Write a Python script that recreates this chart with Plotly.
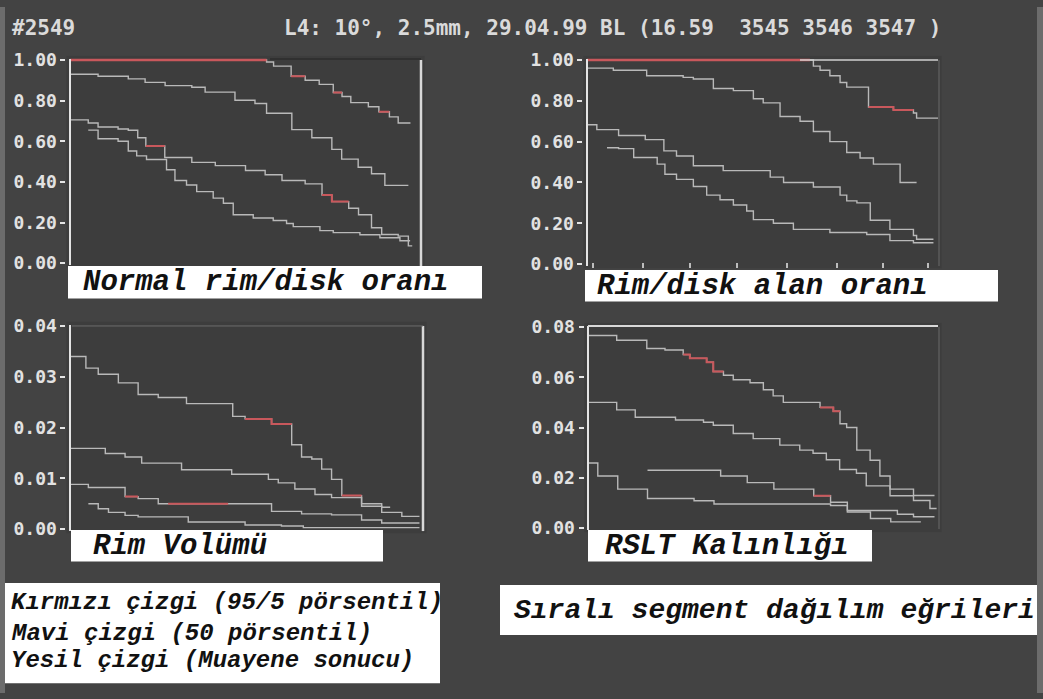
import plotly.graph_objects as go

W, H = 1043, 699

# ---------------- data ----------------
header_left = "#2549"
header_right = "L4: 10°, 2.5mm, 29.04.99 BL (16.59  3545 3546 3547 )"

panel_titles = ["Normal rim/disk oranı", "Rim/disk alan oranı", "Rim Volümü", "RSLT Kalınlığı"]
legend_lines = ["Kırmızı çizgi (95/5 pörsentil)", "Mavi çizgi (50 pörsentil)", "Yesil çizgi (Muayene sonucu)"]
footer_title = "Sıralı segment dağılım eğrileri"

# tick values / labels
p1_tickvals = [1.0, 0.8, 0.6, 0.4, 0.2, 0.0]
p1_ticktext = ["1.00", "0.80", "0.60", "0.40", "0.20", "0.00"]
p2_tickvals = [1.0, 0.8, 0.6, 0.4, 0.2, 0.0]
p2_ticktext = ["1.00", "0.80", "0.60", "0.40", "0.20", "0.00"]
p3_tickvals = [0.04, 0.03, 0.02, 0.01, 0.0]
p3_ticktext = ["0.04", "0.03", "0.02", "0.01", "0.00"]
p4_tickvals = [0.08, 0.06, 0.04, 0.02, 0.0]
p4_ticktext = ["0.08", "0.06", "0.04", "0.02", "0.00"]
p2_xtickvals = [1.7, 16, 29.3, 42.7, 57, 71.2, 84.3, 97.1]

# Panel 1 : Normal rim/disk oranı (segment rank 0..100)
p1_a_x = [0, 56, 58, 63, 67, 71, 75, 77.5, 80, 85, 88, 91, 93.5, 97]
p1_a_y = [1.00, 0.99, 0.97, 0.92, 0.90, 0.88, 0.84, 0.82, 0.79, 0.77, 0.745, 0.72, 0.69, 0.69]
p1_b_x = [0, 8, 16.6, 21.4, 27.1, 34.7, 38.5, 47, 52.7, 56, 63.2, 68.9, 74.6, 77.4, 82.1, 85.9, 89.7, 96.4]
p1_b_y = [0.93, 0.92, 0.907, 0.89, 0.874, 0.866, 0.842, 0.802, 0.786, 0.738, 0.657, 0.617, 0.560, 0.512, 0.472, 0.440, 0.383, 0.383]
p1_c_x = [0, 5.2, 8, 13.7, 16.6, 19.3, 21.6, 27, 34.7, 41.4, 50, 55.6, 60.4, 67, 71.8, 74.6, 79.4, 82.2, 85.9, 88.8, 93.5, 96.4, 97.5]
p1_c_y = [0.705, 0.69, 0.67, 0.66, 0.654, 0.617, 0.577, 0.52, 0.496, 0.48, 0.456, 0.435, 0.407, 0.39, 0.335, 0.303, 0.27, 0.238, 0.174, 0.141, 0.133, 0.085, 0.085]
p1_d_x = [5.2, 8, 13.7, 16.6, 19, 21.8, 27.5, 29.9, 33.2, 36.1, 40.8, 43.7, 46.5, 52.2, 57.9, 61.7, 63.6, 71.2, 75, 82.6, 88.3, 94, 96.9]
p1_d_y = [0.655, 0.612, 0.60, 0.552, 0.528, 0.51, 0.46, 0.407, 0.385, 0.352, 0.32, 0.295, 0.238, 0.222, 0.21, 0.195, 0.18, 0.16, 0.15, 0.14, 0.125, 0.11, 0.11]
p1_red_a = [(0, 56), (63, 67), (75, 77.5), (88, 91)]
p1_red_c = [(21.6, 27), (71.8, 79.4)]

# Panel 2 : Rim/disk alan oranı
p2_a_x = [0, 63.5, 64.5, 66.4, 69.2, 72.1, 74, 80.2, 87.3, 93, 93.9, 100]
p2_a_y = [1.0, 1.0, 0.97, 0.95, 0.923, 0.89, 0.867, 0.77, 0.755, 0.74, 0.715, 0.715]
p2_b_x = [0, 7.5, 17, 27.4, 30.3, 36, 41.7, 47.4, 50.2, 55, 60.7, 64.5, 69.2, 74, 77.8, 81.6, 89.2, 93.9]
p2_b_y = [0.96, 0.95, 0.923, 0.915, 0.907, 0.86, 0.85, 0.81, 0.79, 0.723, 0.70, 0.65, 0.60, 0.547, 0.52, 0.49, 0.40, 0.40]
p2_c_x = [0, 2.8, 9, 16.6, 21.9, 25.5, 30.3, 38.8, 52.2, 56, 64.5, 72.1, 74, 76.9, 80.7, 86.3, 93, 93.9, 98.7]
p2_c_y = [0.683, 0.659, 0.63, 0.61, 0.555, 0.53, 0.482, 0.458, 0.426, 0.40, 0.378, 0.338, 0.31, 0.30, 0.215, 0.17, 0.14, 0.122, 0.122]
p2_d_x = [5.7, 9, 13.3, 20, 22.2, 25.5, 30.3, 34.1, 37.9, 41.7, 45.5, 47.4, 53.1, 58.8, 69.2, 79.7, 86.3, 93, 98.7]
p2_d_y = [0.57, 0.566, 0.522, 0.49, 0.44, 0.415, 0.38, 0.338, 0.315, 0.29, 0.26, 0.218, 0.20, 0.17, 0.155, 0.145, 0.115, 0.105, 0.105]
p2_red_a = [(0, 63.5), (80.2, 93)]
p2_red_c = []

# Panel 3 : Rim Volümü
p3_a_x = [0, 4.5, 8, 13.7, 19.3, 25, 33, 46.1, 49.6, 57.1, 62.8, 65.6, 68.5, 71.3, 74.1, 77, 82.6, 88.3, 90.7]
p3_a_y = [0.034, 0.0317, 0.0305, 0.0288, 0.0265, 0.0259, 0.0247, 0.0222, 0.0217, 0.0207, 0.0166, 0.0142, 0.0138, 0.0118, 0.0098, 0.0066, 0.005, 0.0043, 0.0043]
p3_b_x = [0, 10, 15.6, 20.3, 31.6, 45.8, 56.2, 59, 63.7, 69.4, 74.1, 82.6, 88.3, 94, 99]
p3_b_y = [0.0159, 0.0149, 0.0142, 0.013, 0.0117, 0.0108, 0.0098, 0.0091, 0.0079, 0.0068, 0.0062, 0.0045, 0.0033, 0.0025, 0.0025]
p3_c_x = [0, 5.2, 15.6, 19.3, 25, 57.1, 65.6, 74.1, 82.6, 88.3, 99]
p3_c_y = [0.0088, 0.0082, 0.0064, 0.006, 0.005, 0.0035, 0.003, 0.0028, 0.0018, 0.0012, 0.0012]
p3_d_x = [5.2, 8, 10.9, 15.6, 19.3, 33.5, 49.6, 59.9, 66.1, 99]
p3_d_y = [0.005, 0.004, 0.0033, 0.0027, 0.0024, 0.0014, 0.0008, 0.0006, 0.0003, 0.0003]
p3_red_a = [(49.6, 62.8), (77, 82.6)]
p3_red_c = [(15.6, 19.3), (27.8, 44.8)]

# Panel 4 : RSLT Kalınlığı
p4_a_x = [0, 8.2, 16.8, 22, 27.2, 29.1, 33.9, 35.8, 38.7, 41.5, 46.3, 50.1, 52.9, 55.8, 66.3, 70.1, 72, 73.9, 76.8, 80.6, 83.4, 86.3, 93, 97.7, 99.6]
p4_a_y = [0.0766, 0.0747, 0.0714, 0.0708, 0.069, 0.0675, 0.066, 0.0623, 0.0608, 0.059, 0.0578, 0.055, 0.0526, 0.05, 0.048, 0.0465, 0.0415, 0.040, 0.031, 0.027, 0.0207, 0.0129, 0.011, 0.0078, 0.0078]
p4_b_x = [0, 8.2, 13.5, 25, 33, 35.8, 41.5, 47.2, 54.8, 60.5, 64.3, 68.1, 71.9, 76.7, 79.5, 86.3, 93, 99]
p4_b_y = [0.05, 0.047, 0.0441, 0.043, 0.0421, 0.0409, 0.0376, 0.0356, 0.033, 0.031, 0.0298, 0.0272, 0.0233, 0.0218, 0.0168, 0.0155, 0.013, 0.013]
p4_c_x = [0, 2.8, 8.5, 17, 30.3, 36, 69.3, 74.1, 80.7, 86.5, 95.1]
p4_c_y = [0.0259, 0.0207, 0.0155, 0.0118, 0.0109, 0.0096, 0.009, 0.0064, 0.0038, 0.0025, 0.0025]
p4_d_x = [17, 37.9, 45.5, 53.1, 64.5, 69.3, 74.1, 88.4, 93, 99]
p4_d_y = [0.023, 0.0207, 0.0181, 0.0155, 0.0129, 0.0103, 0.007, 0.0055, 0.0045, 0.0045]
p4_red_a = [(27.2, 38.7), (66.3, 72)]
p4_red_c = [(64.5, 69.3)]

# ---------------- styling / geometry ----------------
BG = "#434343"
PLOT_BG = "#3d3d3d"
LINE = "#b9b9b9"
RED = "#c9585c"
AX = "#e4e4e4"
TICKFONT = dict(family="DejaVu Sans Mono", size=18, color="#e2e2e2", weight="bold")


def px_x(p):
    return p / W


def px_y(p):
    return 1 - p / H


def domain(p0, p1, v0, v1, lo, hi, is_y):
    k = (p1 - p0) / (v1 - v0)
    a = p0 + (lo - v0) * k
    b = p0 + (hi - v0) * k
    if is_y:
        return sorted([px_y(a), px_y(b)])
    return sorted([px_x(a), px_x(b)])


panels = [
    dict(xp=(70, 421), yp=(261, 54), top=1.0, tv=p1_tickvals, tt=p1_ticktext, xt=None,
         curves=[(p1_a_x, p1_a_y), (p1_b_x, p1_b_y), (p1_c_x, p1_c_y), (p1_d_x, p1_d_y)],
         reds=[(0, p1_red_a), (2, p1_red_c)]),
    dict(xp=(587, 938), yp=(262, 54), top=1.0, tv=p2_tickvals, tt=p2_ticktext, xt=p2_xtickvals,
         curves=[(p2_a_x, p2_a_y), (p2_b_x, p2_b_y), (p2_c_x, p2_c_y), (p2_d_x, p2_d_y)],
         reds=[(0, p2_red_a), (2, p2_red_c)]),
    dict(xp=(70, 423), yp=(532, 325), top=0.04, tv=p3_tickvals, tt=p3_ticktext, xt=None,
         curves=[(p3_a_x, p3_a_y), (p3_b_x, p3_b_y), (p3_c_x, p3_c_y), (p3_d_x, p3_d_y)],
         reds=[(0, p3_red_a), (2, p3_red_c)]),
    dict(xp=(588, 938), yp=(531, 326), top=0.08, tv=p4_tickvals, tt=p4_ticktext, xt=None,
         curves=[(p4_a_x, p4_a_y), (p4_b_x, p4_b_y), (p4_c_x, p4_c_y), (p4_d_x, p4_d_y)],
         reds=[(0, p4_red_a), (3, p4_red_c)]),
]


def sub_step(xs, ys, x0, x1):
    """Portion of an 'hv' step curve between x0 and x1."""
    def val(x):
        v = ys[0]
        for xi, yi in zip(xs, ys):
            if xi <= x:
                v = yi
        return v
    px_, py_ = [x0], [val(x0)]
    for xi, yi in zip(xs, ys):
        if x0 < xi < x1:
            px_.append(xi)
            py_.append(yi)
    px_.append(x1)
    py_.append(py_[-1])
    return px_, py_


fig = go.Figure()
layout = dict(width=W, height=H, autosize=False, margin=dict(l=0, r=0, t=0, b=0),
              paper_bgcolor=BG, plot_bgcolor=PLOT_BG, showlegend=False)

shapes = []
annotations = []

for i, p in enumerate(panels, start=1):
    sx = "" if i == 1 else str(i)
    top = p["top"]
    pad = top * 0.02
    ylo, yhi = -pad, top + pad
    xdom = domain(p["xp"][0], p["xp"][1], 0, 100, -1, 101, False)
    ydom = domain(p["yp"][0], p["yp"][1], 0, top, ylo, yhi, True)
    xa = dict(domain=xdom, range=[-1, 101], anchor="y" + sx, showgrid=False,
              zeroline=False, showticklabels=False, ticks="", showline=False)
    if p["xt"]:
        xa.update(tickvals=p["xt"], ticks="inside", ticklen=5, tickwidth=1.5, tickcolor="#bdbdbd")
    layout["xaxis" + sx] = xa
    layout["yaxis" + sx] = dict(domain=ydom, range=[ylo, yhi], anchor="x" + sx, showgrid=False,
                                zeroline=False, tickvals=p["tv"], ticktext=p["tt"],
                                ticks="outside", ticklen=5, tickwidth=2, tickcolor=AX,
                                tickfont=TICKFONT, showline=False)
    shapes.append(dict(type="line", xref="paper", yref="paper", x0=px_x(p["xp"][0]), x1=px_x(p["xp"][0]),
                       y0=px_y(p["yp"][0] + 2), y1=px_y(p["yp"][1] - 1), line=dict(color=AX, width=2)))
    for ci, (cx, cy) in enumerate(p["curves"]):
        fig.add_trace(go.Scatter(x=cx, y=cy, mode="lines", line=dict(color=LINE, width=1.4, shape="hv"),
                                 xaxis="x" + sx, yaxis="y" + sx, hoverinfo="skip"))
    for ci, ranges in p["reds"]:
        cx, cy = p["curves"][ci]
        for (r0, r1) in ranges:
            rx, ry = sub_step(cx, cy, r0, r1)
            fig.add_trace(go.Scatter(x=rx, y=ry, mode="lines",
                                     line=dict(color=RED, width=2.6 if r0 == 0 else 2, shape="hv"),
                                     xaxis="x" + sx, yaxis="y" + sx, hoverinfo="skip"))

frame_specs = [
    (421, 54, 264, "#d8d8d8", 2.5),
    (939, 54, 264, "#6a6a6a", 1),
    (423, 325, 534, "#d8d8d8", 2.5),
    (939, 326, 532, "#6a6a6a", 1),
]
for xpx, yt, yb, col, wd in frame_specs:
    shapes.append(dict(type="line", xref="paper", yref="paper", x0=px_x(xpx), x1=px_x(xpx),
                       y0=px_y(yb), y1=px_y(yt), line=dict(color=col, width=wd)))
top_specs = [
    (270, 421, 53, "#2c2c2c", 1.5),
    (800, 938, 54, "#d0d0d0", 1.5),
    (72, 423, 325, "#6c6c6c", 1),
    (588, 938, 325, "#d8d8d8", 2),
]
for xa_, xb_, ypx, col, wd in top_specs:
    shapes.append(dict(type="line", xref="paper", yref="paper", x0=px_x(xa_), x1=px_x(xb_),
                       y0=px_y(ypx), y1=px_y(ypx), line=dict(color=col, width=wd)))

# scanner edge strips
for sx0, sx1 in [(0, 5), (1037, 1043)]:
    shapes.append(dict(type="rect", xref="paper", yref="paper", x0=px_x(sx0), x1=px_x(sx1),
                       y0=0, y1=1, fillcolor="#6c6c6c", line=dict(width=0), layer="below"))

boxes = [(68, 264, 482, 297), (585, 268, 998, 300), (71, 533, 383, 565), (588, 533, 872, 565),
         (5, 587, 440, 689), (500, 589, 1037, 640)]
for bx0, by0, bx1, by1 in boxes:
    shapes.append(dict(type="rect", xref="paper", yref="paper", x0=px_x(bx0), x1=px_x(bx1),
                       y0=px_y(by1), y1=px_y(by0), fillcolor="white", line=dict(width=0), layer="above"))

title_pos = [(81, 281), (595, 285), (91, 550), (603, 550)]
LABEL_FONT = dict(family="Liberation Mono", size=29, color="#111111", style="italic", weight="bold")
for txt, (tx, ty) in zip(panel_titles, title_pos):
    annotations.append(dict(text=txt, x=px_x(tx), y=px_y(ty), xref="paper", yref="paper",
                            xanchor="left", yanchor="middle", showarrow=False, font=LABEL_FONT))

LEG_FONT = dict(family="Liberation Mono", size=24, color="#111111", style="italic", weight="bold")
for txt, ty in zip(legend_lines, [607, 638, 666]):
    annotations.append(dict(text=txt, x=px_x(9), y=px_y(ty), xref="paper", yref="paper",
                            xanchor="left", yanchor="middle", showarrow=False, font=LEG_FONT))
annotations.append(dict(text=footer_title, x=px_x(512), y=px_y(615), xref="paper", yref="paper",
                        xanchor="left", yanchor="middle", showarrow=False,
                        font=dict(family="Liberation Mono", size=28, color="#111111", style="italic", weight="bold")))

HEAD_FONT = dict(family="DejaVu Sans Mono", size=21, color="#dadada", weight="bold")
annotations.append(dict(text=header_left, x=px_x(10), y=px_y(21), xref="paper", yref="paper",
                        xanchor="left", yanchor="middle", showarrow=False, font=HEAD_FONT))
annotations.append(dict(text=header_right, x=px_x(282), y=px_y(21), xref="paper", yref="paper",
                        xanchor="left", yanchor="middle", showarrow=False, font=HEAD_FONT))

layout["shapes"] = shapes
layout["annotations"] = annotations
fig.update_layout(**layout)

fig.write_html("out.html", config={"displayModeBar": False},
               post_script="document.body.style.margin='0';document.body.style.background='#434343';")
